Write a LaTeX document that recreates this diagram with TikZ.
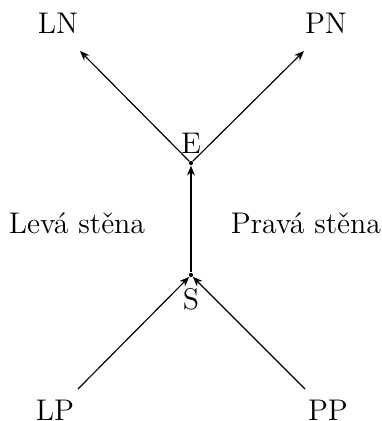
\documentclass[tikz,border=0pt]{standalone}
\usetikzlibrary{arrows.meta}
\begin{document}
\begin{tikzpicture}[x=0.385pt,y=-0.385pt,
  font=\fontsize{11.5pt}{14pt}\selectfont,
  lbl/.style={inner sep=0pt},
  dot/.style={circle,fill,inner sep=0pt,minimum size=1.6pt},
  edge/.style={line width=0.45pt,-{Stealth[length=3.8pt,width=3pt]}},
  main/.style={line width=0.8pt,-{Stealth[length=3.8pt,width=3pt]}}]
\useasboundingbox (0,0) rectangle (382,421);
% junction points
\node[dot] (E) at (191,163) {};
\node[dot] (S) at (191,275) {};
% labels
\node[lbl] (ELbl) at (191,143) {E};
\node[lbl] (SLbl) at (191,299) {S};
\node[lbl] (LN) at (58,23) {LN};
\node[lbl] (PN) at (326,23) {PN};
\node[lbl] (LP) at (55,410) {LP};
\node[lbl] (PP) at (328,410) {PP};
\node[lbl] (L) at (77,223) {Levá stěna};
\node[lbl] (R) at (306,223) {Pravá stěna};
% connector ends
\coordinate (LNend) at (80,51);
\coordinate (PNend) at (304,51);
\coordinate (LPend) at (78,389);
\coordinate (PPend) at (305,389);
% connectors
\draw[edge] (LPend) -- (S);
\draw[edge] (PPend) -- (S);
\draw[main] (S) -- (E);
\draw[edge] (E) -- (LNend);
\draw[edge] (E) -- (PNend);
\end{tikzpicture}
\end{document}
